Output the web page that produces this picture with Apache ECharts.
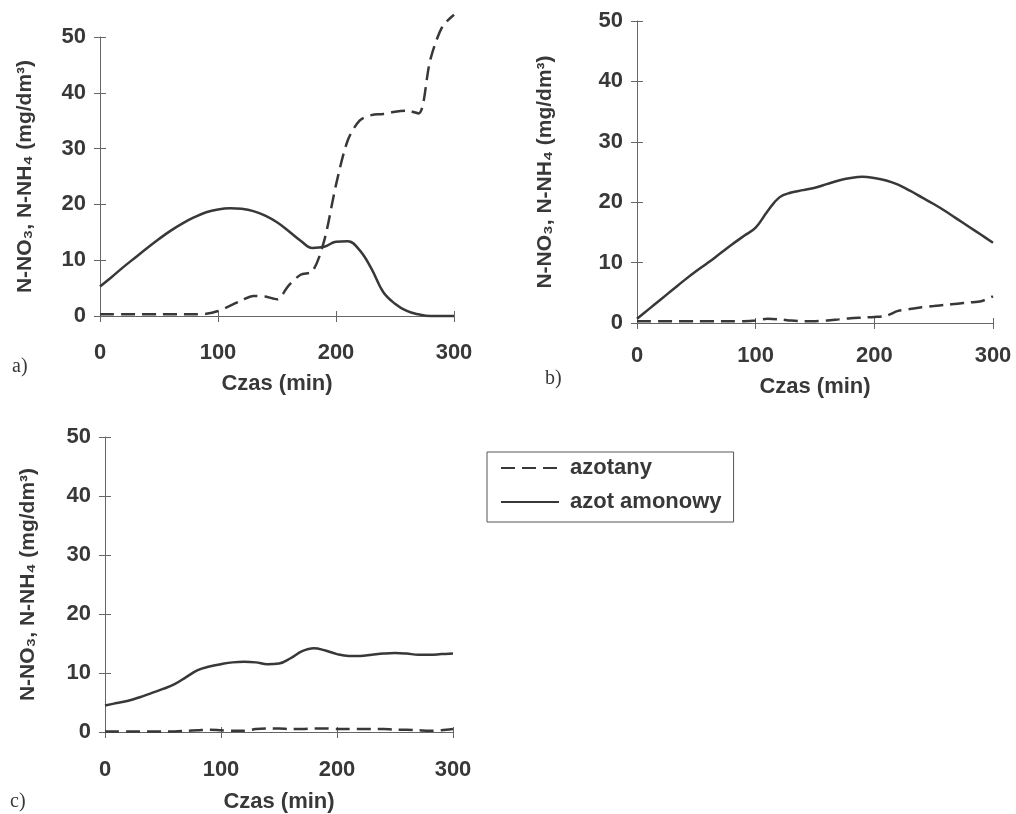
<!DOCTYPE html>
<html>
<head>
<meta charset="utf-8">
<script src="https://cdn.jsdelivr.net/npm/echarts@6/dist/echarts.min.js"></script>
<style>
  html, body { margin: 0; padding: 0; background: #fff; }
  #chart { width: 1016px; height: 814px; }
</style>
</head>
<body>
<div id="chart"></div>
<script>
// czas (min)
var times = [0, 10, 20, 30, 40, 50, 60, 70, 80, 90, 100, 110, 120, 130, 140, 150,
  160, 170, 180, 190, 200, 210, 220, 230, 240, 250, 260, 270, 280, 290, 300];

// a)
var aAzotany = [0.3, 0.3, 0.3, 0.3, 0.3, 0.3, 0.3, 0.3, 0.3, 0.4, 0.9, 1.8, 2.8, 3.6, 3.5, 3.0,
  5.5, 7.4, 8.0, 13.5, 23.5, 31.5, 35.0, 36.0, 36.2, 36.6, 36.8, 36.3, 46.0, 51.8, 54.0];
var aAmonowy = [5.3, 7.0, 8.8, 10.5, 12.2, 13.8, 15.3, 16.6, 17.7, 18.6, 19.1, 19.3, 19.2, 18.8, 18.0, 16.8,
  15.2, 13.5, 12.2, 12.4, 13.3, 13.4, 11.8, 8.5, 4.3, 2.2, 0.9, 0.3, 0.0, 0.0, 0.0];

// b)
var bAzotany = [0.3, 0.3, 0.3, 0.3, 0.3, 0.3, 0.3, 0.3, 0.3, 0.3, 0.4, 0.7, 0.6, 0.4, 0.3, 0.3,
  0.4, 0.6, 0.8, 0.9, 1.0, 1.2, 2.0, 2.3, 2.6, 2.8, 3.0, 3.2, 3.4, 3.6, 4.4];
var bAmonowy = [0.7, 2.3, 3.9, 5.5, 7.1, 8.6, 10.0, 11.5, 13.0, 14.4, 15.8, 18.5, 20.8, 21.6, 22.0, 22.4,
  23.0, 23.6, 24.0, 24.2, 24.0, 23.6, 22.9, 21.9, 20.8, 19.7, 18.5, 17.2, 15.9, 14.6, 13.3];

// c)
var cAzotany = [0.1, 0.1, 0.1, 0.1, 0.1, 0.1, 0.1, 0.2, 0.3, 0.4, 0.3, 0.2, 0.2, 0.5, 0.6, 0.6,
  0.5, 0.5, 0.6, 0.6, 0.5, 0.5, 0.5, 0.5, 0.5, 0.4, 0.4, 0.3, 0.2, 0.3, 0.5];
var cAmonowy = [4.5, 4.9, 5.3, 5.9, 6.6, 7.3, 8.1, 9.3, 10.5, 11.1, 11.5, 11.8, 11.9, 11.8, 11.5, 11.6,
  12.5, 13.7, 14.2, 13.8, 13.2, 12.9, 12.9, 13.1, 13.3, 13.4, 13.3, 13.1, 13.1, 13.2, 13.3];

var xTicks = [0, 100, 200, 300];
var yTicks = [0, 10, 20, 30, 40, 50];
var panelLetters = ['a)', 'b)', 'c)'];

var font = "'Liberation Sans', Arial, sans-serif";
var ink = '#383838';

// grid placement of the three panels
var panels = [
  { left: 100, top: 37, width: 354, height: 279, xMargin: 26, xGap: 57, yGap: 64, letter: [12, 357] },
  { left: 637, top: 21, width: 356, height: 302, xMargin: 22, xGap: 53, yGap: 81, letter: [545, 369] },
  { left: 105, top: 437, width: 348, height: 296, xMargin: 27, xGap: 59, yGap: 66, letter: [10, 792] }
];

function pairs(ys) {
  return times.map(function (t, i) { return [t, ys[i]]; });
}

var grids = [], xAxes = [], yAxes = [], series = [], graphics = [];
var datasets = [[aAzotany, aAmonowy], [bAzotany, bAmonowy], [cAzotany, cAmonowy]];

panels.forEach(function (p, i) {
  grids.push({ left: p.left, top: p.top, width: p.width, height: p.height });

  // main axes (ticks outside + labels)
  xAxes.push({
    type: 'value', gridIndex: i, min: xTicks[0], max: xTicks[xTicks.length - 1], interval: 100,
    name: 'Czas (min)', nameLocation: 'middle', nameGap: p.xGap,
    nameTextStyle: { fontFamily: font, fontSize: 22, fontWeight: 'bold', color: ink },
    axisLine: { lineStyle: { color: '#666', width: 1 } },
    axisTick: { show: true, length: 6, lineStyle: { color: '#666' } },
    axisLabel: { fontFamily: font, fontSize: 22, fontWeight: 'bold', color: ink, margin: p.xMargin },
    splitLine: { show: false }
  });
  // second copy just for inner half of the tick cross
  xAxes.push({
    type: 'value', gridIndex: i, min: 0, max: 300, interval: 100, position: 'bottom',
    axisLine: { show: false },
    axisTick: { show: true, inside: true, length: 5, lineStyle: { color: '#666' } },
    axisLabel: { show: false }, splitLine: { show: false }
  });

  yAxes.push({
    type: 'value', gridIndex: i, min: yTicks[0], max: yTicks[yTicks.length - 1], interval: 10,
    name: 'N-NO\u2083, N-NH\u2084 (mg/dm\u00b3)', nameLocation: 'middle', nameGap: p.yGap,
    nameTextStyle: { fontFamily: font, fontSize: 21, fontWeight: 'bold', color: ink },
    axisLine: { show: true, lineStyle: { color: '#666', width: 1 } },
    axisTick: { show: true, length: 6, lineStyle: { color: '#666' } },
    axisLabel: { fontFamily: font, fontSize: 22, fontWeight: 'bold', color: ink, margin: 14 },
    splitLine: { show: false }
  });
  yAxes.push({
    type: 'value', gridIndex: i, min: 0, max: 50, interval: 10, position: 'left',
    axisLine: { show: false },
    axisTick: { show: true, inside: true, length: 6, lineStyle: { color: '#666' } },
    axisLabel: { show: false }, splitLine: { show: false }
  });

  series.push({
    name: 'azotany', type: 'line', xAxisIndex: 2 * i, yAxisIndex: 2 * i,
    data: pairs(datasets[i][0]), smooth: 0.3, symbol: 'none', clip: false,
    lineStyle: { color: ink, width: 2.5, type: [14, 7] }, itemStyle: { color: ink }
  });
  series.push({
    name: 'azot amonowy', type: 'line', xAxisIndex: 2 * i, yAxisIndex: 2 * i,
    data: pairs(datasets[i][1]), smooth: 0.4, symbol: 'none', clip: false,
    lineStyle: { color: ink, width: 2.5 }, itemStyle: { color: ink }
  });

  graphics.push({
    type: 'text', left: p.letter[0], top: p.letter[1],
    style: { text: panelLetters[i], font: "20px 'Liberation Serif', 'Times New Roman', serif", fill: ink }
  });
});

var myChart = echarts.init(document.getElementById('chart'));
myChart.setOption({
  animation: false,
  backgroundColor: '#fff',
  grid: grids,
  xAxis: xAxes,
  yAxis: yAxes,
  legend: {
    data: ['azotany', 'azot amonowy'],
    orient: 'vertical', left: 487, top: 452,
    padding: [5, 12, 9, 13], itemGap: 12,
    itemWidth: 58, itemHeight: 14,
    borderColor: '#555', borderWidth: 1,
    itemStyle: { opacity: 0 },
    textStyle: { fontFamily: font, fontSize: 22, fontWeight: 'bold', color: ink, padding: [0, 0, 0, 6] }
  },
  graphic: graphics,
  series: series
});
</script>
</body>
</html>
